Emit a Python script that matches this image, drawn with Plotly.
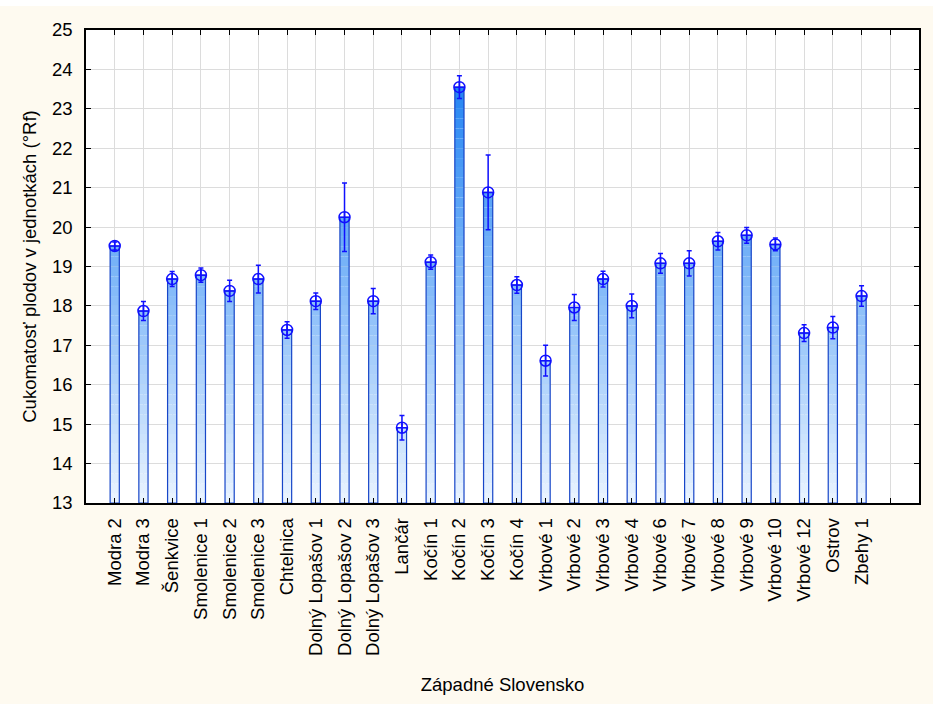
import plotly.graph_objects as go

categories = ["Modra 2", "Modra 3", "Šenkvice", "Smolenice 1", "Smolenice 2", "Smolenice 3",
              "Chtelnica", "Dolný Lopašov 1", "Dolný Lopašov 2", "Dolný Lopašov 3", "Lančár",
              "Kočín 1", "Kočín 2", "Kočín 3", "Kočín 4", "Vrbové 1", "Vrbové 2", "Vrbové 3",
              "Vrbové 4", "Vrbové 6", "Vrbové 7", "Vrbové 8", "Vrbové 9", "Vrbové 10",
              "Vrbové 12", "Ostrov", "Zbehy 1"]
means = [19.52, 17.87, 18.68, 18.78, 18.38, 18.68, 17.39, 18.12, 20.25, 18.12, 14.91,
         19.11, 23.55, 20.88, 18.53, 16.61, 17.96, 18.68, 18.00, 19.08, 19.08, 19.64,
         19.79, 19.56, 17.31, 17.45, 18.25]
errors = [0.10, 0.24, 0.19, 0.18, 0.27, 0.35, 0.21, 0.21, 0.87, 0.32, 0.31,
          0.18, 0.29, 0.95, 0.21, 0.39, 0.33, 0.20, 0.30, 0.25, 0.32, 0.22,
          0.20, 0.16, 0.21, 0.28, 0.26]
y_ticks = list(range(13, 26))

x = list(range(1, len(categories) + 1))
base_val = 13.0
top_val = 25.0
bar_w = 0.32

fig = go.Figure()

# gradient fill: bands in absolute y
step = 0.25
n = int((top_val - base_val) / step)
c_lo = (234, 244, 255)
c_hi = (28, 128, 242)
for k in range(n):
    lo = base_val + k * step
    hi = lo + step
    seg = [max(0.0, min(v, hi) - lo) for v in means]
    t = min(1.0, (lo + step / 2 - base_val) / 11.0)
    col = "rgb(%d,%d,%d)" % tuple(round(a + (b - a) * t) for a, b in zip(c_lo, c_hi))
    fig.add_trace(go.Bar(x=x, y=seg, base=[lo] * len(x), width=bar_w,
                         marker=dict(color=col, line=dict(width=0)),
                         showlegend=False, hoverinfo="skip"))

# outline
fig.add_trace(go.Bar(x=x, y=[v - base_val for v in means], base=[base_val] * len(x),
                     width=bar_w,
                     marker=dict(color="rgba(0,0,0,0)", line=dict(color="#1746c8", width=1.2)),
                     showlegend=False, hoverinfo="skip"))

# means with error bars
fig.add_trace(go.Scatter(x=x, y=means, mode="markers",
                         marker=dict(symbol="circle-cross-open", size=11, color="#1010ff",
                                     line=dict(width=1.5, color="#1010ff")),
                         error_y=dict(type="data", array=errors, visible=True,
                                      color="#1010ff", thickness=1.5, width=2.5),
                         showlegend=False))

fs = 18.5
fig.update_layout(
    width=933, height=704,
    barmode="overlay",
    paper_bgcolor="#fefaf0",
    plot_bgcolor="white",
    margin=dict(l=86, r=12, t=30, b=201),
    font=dict(family="Arial, Liberation Sans, sans-serif", size=fs, color="black"),
    shapes=[dict(type="rect", xref="paper", yref="paper", x0=-0.2, x1=1.2,
                 y0=1.0 + 24 / 473, y1=1.2, fillcolor="white", line=dict(width=0),
                 layer="above")],
)
fig.update_xaxes(
    range=[0, len(categories) + 2],
    tickmode="array",
    tickvals=x + [len(categories) + 1],
    ticktext=categories + [""],
    tickangle=-90,
    tickfont=dict(size=fs),
    showgrid=True, gridcolor="#dcdcdc", gridwidth=1,
    showline=True, linecolor="black", linewidth=1.5, mirror="ticks",
    ticks="inside", ticklen=5, tickcolor="black",
    ticklabelstandoff=6,
    zeroline=False,
    title=dict(text="Západné Slovensko", font=dict(size=fs), standoff=23),
)
fig.update_yaxes(
    range=[base_val, top_val],
    tickmode="array", tickvals=y_ticks,
    tickfont=dict(size=fs),
    showgrid=True, gridcolor="#dcdcdc", gridwidth=1,
    showline=True, linecolor="black", linewidth=1.5, mirror="ticks",
    ticks="inside", ticklen=5, tickcolor="black",
    ticklabelstandoff=8,
    zeroline=False,
    title=dict(text="Cukomatosť plodov v jednotkách (°Rf)", font=dict(size=fs), standoff=10),
)

fig.write_html("out.html", config={"displayModeBar": False},
               post_script="document.body.style.margin='0';")
